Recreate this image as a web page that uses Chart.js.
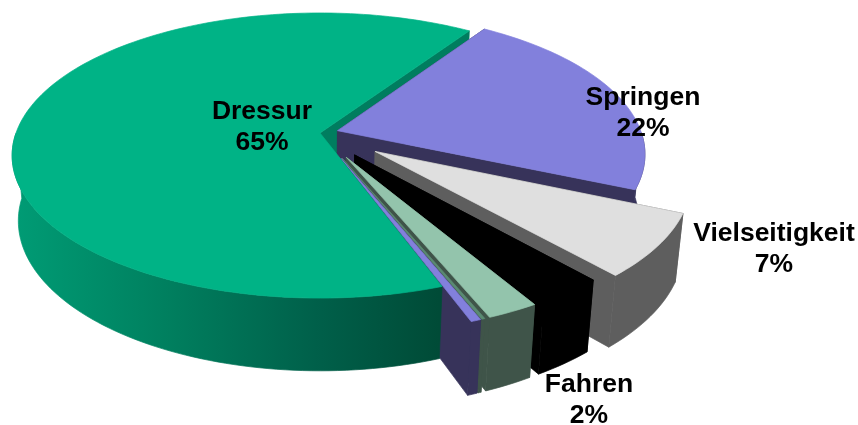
<!DOCTYPE html>
<html>
<head>
<meta charset="utf-8">
<title>Disziplinen</title>
<script src="https://cdn.jsdelivr.net/npm/chart.js@4/dist/chart.umd.min.js"></script>
<style>
    html, body { margin: 0; padding: 0; background: #fff; }
    canvas { display: block; }
</style>
</head>
<body>
<canvas id="pie" width="858" height="425"></canvas>
<script>
    // werte
    let categories = ['Dressur', 'Springen', 'Vielseitigkeit', '', 'Fahren', '', ''];
    let values = [65, 22.2, 7, 3, 2.3, 0.15, 0.45];
    let shownPercent = [65, 22, 7, null, 2, null, null];

    let topColors = ['#00b386', '#8280dc', '#dfdfdf', '#000000', '#93c4ac', '#5a8a72', '#8280dc'];
    let wallColors = ['#007d5f', '#37335a', '#5e5e5e', '#000000', '#3f5449', '#3f5449', '#37335a'];
    let explode = [0, 6, 22, 19, 19, 19, 19];
    let labelSpots = [[262, 112], [643, 98], [774, 234], null, [589, 385], null, null];

    // perspektive der scheibe
    let view = { cx: 320, cy: 133, rx: 304, ry: 139, tilt: 0.158, drop: 66, shrink: 0.02 };

    function project(u, v, low) {
        let w = 1 - view.tilt * v + (low ? view.shrink : 0);
        return {
            x: view.cx + view.rx * u / w,
            y: view.cy + (view.ry * v + (low ? view.drop : 0)) / w
        };
    }

    function polygon(ctx, pts, fill) {
        ctx.beginPath();
        pts.forEach((p, i) => i === 0 ? ctx.moveTo(p.x, p.y) : ctx.lineTo(p.x, p.y));
        ctx.closePath();
        ctx.fillStyle = fill;
        ctx.fill();
        // gegen helle naehte zwischen den flaechen
        ctx.strokeStyle = fill;
        ctx.lineWidth = 0.7;
        ctx.stroke();
    }

    // frontOnly: nur die zum betrachter zeigende haelfte des randes
    function rimPoints(arc, ox, oy, low, frontOnly) {
        let pts = [];
        let steps = Math.max(4, Math.ceil((arc.endAngle - arc.startAngle) * 40));
        for (let i = 0; i <= steps; i++) {
            let a = arc.startAngle + (arc.endAngle - arc.startAngle) * i / steps;
            if (frontOnly && Math.sin(a) < 0) continue;
            pts.push(project(ox + Math.cos(a), oy + Math.sin(a), low));
        }
        return pts;
    }

    function wallFill(ctx, index) {
        if (index !== 0) return wallColors[index];
        let g = ctx.createLinearGradient(12, 0, 445, 0);
        g.addColorStop(0, '#009c75');
        g.addColorStop(0.35, '#00805f');
        g.addColorStop(0.7, '#00604a');
        g.addColorStop(1, '#004a36');
        return g;
    }

    function sliceShape(arc) {
        let mid = (arc.startAngle + arc.endAngle) / 2;
        let d = arc.options.offset / 100;
        let ox = d * Math.cos(mid);
        let oy = d * Math.sin(mid);
        return {
            top: rimPoints(arc, ox, oy, false, false),
            wallTop: rimPoints(arc, ox, oy, false, true),
            wallLow: rimPoints(arc, ox, oy, true, true),
            low: rimPoints(arc, ox, oy, true, false),
            apexTop: project(ox, oy, false),
            apexLow: project(ox, oy, true)
        };
    }

    function drawFaces(ctx, s, color) {
        polygon(ctx, [s.apexTop, s.top[0], s.low[0], s.apexLow], color);
        polygon(ctx, [s.apexTop, s.top[s.top.length - 1], s.low[s.low.length - 1], s.apexLow], color);
    }

    function drawShell(ctx, arc, s, i) {
        if (s.wallTop.length > 1) {
            polygon(ctx, s.wallTop.concat(s.wallLow.slice().reverse()), wallFill(ctx, i));
        }
        polygon(ctx, [s.apexTop].concat(s.top), arc.options.backgroundColor);
    }

    let pie3d = {
        id: 'pie3d',
        beforeDatasetDraw(chart, args) {
            let ctx = chart.ctx;
            let arcs = chart.getDatasetMeta(args.index).data;
            let shapes = arcs.map(sliceShape);

            // die grosse scheibe liegt vorne, nur ihre schnittflaeche kommt zuerst
            drawFaces(ctx, shapes[0], wallColors[0]);
            for (let i = 1; i < arcs.length; i++) {
                drawFaces(ctx, shapes[i], wallColors[i]);
                drawShell(ctx, arcs[i], shapes[i], i);
            }
            drawShell(ctx, arcs[0], shapes[0], 0);
            return false;
        },
        afterDatasetsDraw(chart) {
            let ctx = chart.ctx;
            ctx.save();
            ctx.fillStyle = '#000';
            ctx.textAlign = 'center';
            ctx.textBaseline = 'middle';
            ctx.font = 'bold 26.5px "Liberation Sans", Arial, sans-serif';
            categories.forEach((name, i) => {
                if (!labelSpots[i]) return;
                ctx.fillText(name, labelSpots[i][0], labelSpots[i][1]);
                ctx.fillText(shownPercent[i] + '%', labelSpots[i][0], labelSpots[i][1] + 31);
            });
            ctx.restore();
        }
    };

    new Chart(document.getElementById('pie'), {
        type: 'pie',
        plugins: [pie3d],
        data: {
            labels: categories,
            datasets: [{
                data: values,
                backgroundColor: topColors,
                offset: explode,
                borderWidth: 0
            }]
        },
        options: {
            responsive: false,
            animation: false,
            rotation: 160,
            layout: { padding: 0 },
            plugins: {
                legend: { display: false },
                tooltip: { enabled: false }
            }
        }
    });
</script>
</body>
</html>
